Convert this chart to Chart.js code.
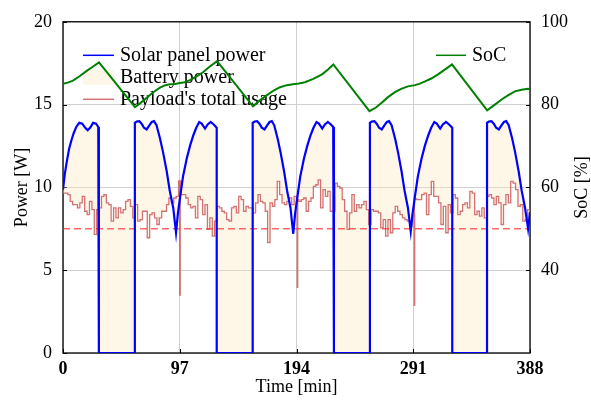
<!DOCTYPE html>
<html>
<head>
<meta charset="utf-8">
<script src="https://cdn.jsdelivr.net/npm/chart.js@4.4.0/dist/chart.umd.min.js"></script>
<style>
    html, body { margin: 0; padding: 0; background: #fff; }
    #wrap { width: 591px; height: 402px; }
</style>
</head>
<body>
<div id="wrap"><canvas id="powerChart"></canvas></div>
<script>
// values (time in min, power in W, SoC in %)
const timeTicks = [0, 97, 194, 291, 388];

const solarTime = [
    0, 1.5, 3, 5, 7, 9, 11, 13.5, 16, 18.5, 20.5, 22.5, 25, 27.5, 29.3, 29.8,
    29.8, 59.7,
    59.7, 61.2, 63.4, 65.3, 67.3, 69.5, 71.7, 73.7, 75.6, 77.7, 80.6, 83.2, 86.2, 88.7, 91.6, 93.9,
    95.5, 97.2, 99.7, 102.8, 105.7, 108.3, 110.7, 113.2, 115.2, 118.0, 120.2, 122.7, 125.2, 127.1, 127.7,
    127.7, 157.6,
    157.6, 159.1, 161.3, 163.2, 165.2, 167.4, 169.6, 171.6, 173.5, 175.5, 178.3, 180.8, 183.7, 186.2, 189.0, 191.3,
    192.9, 194.6, 197.1, 200.2, 203.1, 205.7, 208.1, 210.6, 212.6, 215.4, 217.6, 220.1, 222.6, 224.5, 225.1,
    225.1, 255.0,
    255.0, 256.5, 258.7, 260.6, 262.6, 264.8, 267.0, 269.0, 270.9, 273.0, 275.9, 278.4, 281.3, 283.8, 286.6, 288.9,
    290.5, 292.2, 294.8, 297.9, 300.8, 303.5, 305.9, 308.5, 310.5, 313.4, 315.6, 318.2, 320.8, 322.8, 323.4,
    323.4, 352.3,
    352.3, 353.8, 356.0, 357.9, 359.9, 362.1, 364.3, 366.3, 368.2, 370.3, 373.2, 375.7, 378.6, 381.1, 383.9, 386.4, 388
];
const solarPower = [
    9.86, 10.8, 11.5, 12.3, 12.85, 13.3, 13.65, 13.9, 13.85, 13.6, 13.45, 13.6, 13.9, 13.85, 13.65, 13.6,
    0, 0,
    13.9, 13.98, 14.0, 13.85, 13.6, 13.5, 13.75, 13.95, 14.0, 13.75, 12.95, 12.1, 10.96, 9.8, 8.76, 7.26,
    8.45, 9.36, 10.65, 11.75, 12.55, 13.15, 13.6, 13.95, 13.85, 13.55, 13.8, 13.95, 13.8, 13.65, 13.6,
    0, 0,
    13.9, 13.98, 14.0, 13.85, 13.6, 13.5, 13.75, 13.95, 14.0, 13.75, 12.95, 12.1, 10.96, 9.8, 8.76, 7.2,
    8.45, 9.36, 10.65, 11.75, 12.55, 13.15, 13.6, 13.95, 13.85, 13.55, 13.8, 13.95, 13.8, 13.65, 13.6,
    0, 0,
    13.9, 13.98, 14.0, 13.85, 13.6, 13.5, 13.75, 13.95, 14.0, 13.75, 12.95, 12.1, 10.96, 9.8, 8.76, 7.35,
    8.45, 9.36, 10.65, 11.75, 12.55, 13.15, 13.6, 13.95, 13.85, 13.55, 13.8, 13.95, 13.8, 13.65, 13.6,
    0, 0,
    13.9, 13.98, 14.0, 13.85, 13.6, 13.5, 13.75, 13.95, 14.0, 13.75, 12.95, 12.1, 10.96, 9.8, 8.76, 7.5, 8.5
];

// payload usage, one value every 2 min from t = 0
const payloadStepMin = 2;
const payloadPower = [
    9.66, 9.66, 9.56, 9.16, 8.96, 8.96, 8.76, 9.06, 9.46, 8.56,
    8.36, 9.16, 8.66, 7.16, 8.66, 8.76, 9.46, 9.56, 9.06, 8.96,
    7.96, 8.76, 8.16, 8.76, 8.46, 8.66, 9.16, 9.26, 8.86, 8.16,
    8.96, 7.96, 8.06, 8.56, 8.56, 6.96, 8.36, 8.46, 8.16, 7.76,
    8.16, 8.56, 8.56, 8.96, 9.36, 9.06, 9.36, 9.46, 10.4, 9.56,
    9.56, 9.36, 8.96, 8.76, 8.86, 8.16, 9.46, 9.26, 8.36, 8.96,
    7.46, 8.16, 7.06, 7.96, 8.86, 8.76, 8.56, 8.46, 8.06, 7.96,
    8.76, 8.86, 8.46, 9.46, 9.26, 8.56, 8.86, 8.76, 8.76, 8.46,
    9.06, 9.56, 9.16, 9.06, 8.56, 6.66, 9.06, 8.86, 9.26, 10.36,
    9.56, 9.06, 8.96, 9.16, 9.36, 8.96, 9.46, 9.26, 9.16, 9.26,
    9.36, 8.56, 9.16, 9.36, 10.06, 10.16, 10.46, 8.76, 9.86, 9.46,
    9.76, 8.56, 8.56, 10.26, 10.06, 9.96, 9.26, 8.56, 7.46, 8.46,
    9.56, 8.56, 8.96, 8.76, 8.96, 9.16, 8.66, 7.76, 8.66, 8.56,
    8.56, 8.46, 7.56, 8.06, 7.06, 8.06, 7.26, 8.46, 8.86, 8.56,
    8.36, 8.16, 8.06, 7.96, 7.66, 8.36, 9.3, 9.26, 9.26, 9.56,
    9.66, 8.36, 9.56, 10.36, 9.46, 9.46, 9.06, 7.76, 8.86, 7.26,
    8.96, 8.46, 9.56, 9.36, 8.36, 8.56, 8.96, 9.06, 8.76, 9.76,
    9.66, 8.36, 8.56, 8.26, 8.76, 8.16, 9.46, 9.56, 9.36, 8.96,
    9.46, 9.06, 7.76, 8.96, 9.56, 9.06, 10.36, 10.26, 9.86, 8.86,
    8.96, 7.96, 8.06, 8.66, 8.76
];
// short drops of the payload line
const spikeTime = [97.0, 194.6, 291.8];
const spikeLow = [3.5, 3.97, 2.87];

const limitTime = [0, 388];
const limitPower = [7.5, 7.5];

const socTime = [
    0, 4, 8.3, 14, 20, 25, 29.9,
    59.8, 64, 69.8, 75, 80.6, 85, 88.9, 93, 97.2, 101, 105.5, 111, 116.3, 122, 128,
    157.9, 163, 169.5, 175, 180.3, 186, 191.1, 196, 201, 208, 215.2, 220, 224.6,
    254.6, 260, 265, 270, 275.8, 281, 286.6, 292.4, 296, 300.8, 306, 311.6, 317.5, 323.2,
    352.4, 358, 364.7, 370, 375.5, 381, 386.3, 388
];
const socValue = [
    85.0, 85.3, 85.8, 86.9, 88.2, 89.2, 90.2,
    79.4, 80.3, 81.7, 83.0, 84.1, 84.7, 84.9, 85.0, 85.2, 85.4, 85.9, 86.8, 87.8, 89.2, 90.5,
    79.6, 80.9, 82.3, 83.4, 84.2, 84.7, 84.9, 85.1, 85.4, 86.2, 87.3, 88.4, 89.7,
    78.4, 79.3, 80.5, 81.8, 83.0, 83.8, 84.4, 84.7, 85.0, 85.6, 86.3, 87.3, 88.5, 89.7,
    78.6, 79.8, 81.3, 82.3, 83.2, 83.6, 83.8, 83.7
];

const FONT = '"Liberation Serif", "Times New Roman", serif';
Chart.defaults.font.family = FONT;
Chart.defaults.font.size = 18;
Chart.defaults.color = '#000';

function toPoints(xs, ys) {
    return xs.map((x, i) => ({ x: x, y: ys[i] }));
}

const solarPoints = toPoints(solarTime, solarPower);

const payloadPoints = [];
payloadPower.forEach((v, i) => {
    const t = i * payloadStepMin;
    payloadPoints.push({ x: t, y: v });
    spikeTime.forEach((st, k) => {
        if (st > t && st < t + payloadStepMin) {
            payloadPoints.push({ x: st, y: spikeLow[k] });
            payloadPoints.push({ x: st + 0.4, y: v });
        }
    });
});

// legend inside the plot, frame and inward ticks
const innerLegend = {
    id: 'innerLegend',
    beforeDatasetsDraw(chart) {
        const ctx = chart.ctx;
        const a = chart.chartArea;
        const ds = chart.data.datasets;

        // frame
        ctx.save();
        ctx.strokeStyle = '#000';
        ctx.lineWidth = 1.3;
        ctx.strokeRect(a.left, a.top, a.right - a.left, a.bottom - a.top);

        ctx.lineWidth = 1;
        ctx.beginPath();
        const xs = chart.scales.x, ys = chart.scales.y, ys2 = chart.scales.y2;
        xs.ticks.forEach(t => {
            const px = Math.round(xs.getPixelForValue(t.value)) + 0.5;
            ctx.moveTo(px, a.bottom);
            ctx.lineTo(px, a.bottom - 4);
        });
        ys.ticks.forEach(t => {
            const py = Math.round(ys.getPixelForValue(t.value)) + 0.5;
            ctx.moveTo(a.left, py);
            ctx.lineTo(a.left + 4, py);
        });
        ys2.ticks.forEach(t => {
            const py = Math.round(ys2.getPixelForValue(t.value)) + 0.5;
            ctx.moveTo(a.right, py);
            ctx.lineTo(a.right - 4, py);
        });
        ctx.stroke();

        // legend for the power axis
        ctx.font = '20px ' + FONT;
        ctx.textBaseline = 'middle';
        const rows = [ds[1], ds[4], ds[3]];
        rows.forEach((d, i) => {
            const y = a.top + 33.5 + i * 22;
            const x0 = a.left + 20;
            if (d.fill !== undefined && d.fill !== false) {
                ctx.fillStyle = d.backgroundColor;
                ctx.fillRect(x0, y - 7.5, 31, 15);
            } else {
                ctx.strokeStyle = d.borderColor;
                ctx.lineWidth = 1.5;
                ctx.beginPath();
                ctx.moveTo(x0, y);
                ctx.lineTo(x0 + 31, y);
                ctx.stroke();
            }
            ctx.fillStyle = '#000';
            ctx.fillText(d.label, x0 + 37, y);
        });
        ctx.restore();
    },
    afterDatasetsDraw(chart) {
        const ctx = chart.ctx;
        const a = chart.chartArea;
        const d = chart.data.datasets[0];
        ctx.save();
        ctx.font = '20px ' + FONT;
        ctx.textBaseline = 'middle';
        const y = a.top + 33.5;
        const x0 = a.right - 94;
        ctx.strokeStyle = d.borderColor;
        ctx.lineWidth = 1.5;
        ctx.beginPath();
        ctx.moveTo(x0, y);
        ctx.lineTo(x0 + 30, y);
        ctx.stroke();
        ctx.fillStyle = '#000';
        ctx.fillText(d.label, x0 + 36, y);
        ctx.restore();
    },
    afterDraw(chart) {
        // right axis title reads bottom to top
        const ctx = chart.ctx;
        const a = chart.chartArea;
        ctx.save();
        ctx.font = '18px ' + FONT;
        ctx.fillStyle = '#000';
        ctx.textAlign = 'center';
        ctx.textBaseline = 'middle';
        ctx.translate(chart.width - 9, (a.top + a.bottom) / 2);
        ctx.rotate(-Math.PI / 2);
        ctx.fillText('SoC [%]', 0, 0);
        ctx.restore();
    }
};

new Chart(document.getElementById('powerChart'), {
    type: 'line',
    data: {
        datasets: [{
            label: 'SoC',
            data: toPoints(socTime, socValue),
            yAxisID: 'y2',
            borderColor: '#008000',
            borderWidth: 2,
            pointRadius: 0,
            tension: 0,
            fill: false
        }, {
            label: 'Solar panel power',
            data: solarPoints,
            yAxisID: 'y',
            borderColor: '#0000ff',
            borderWidth: 2.2,
            pointRadius: 0,
            tension: 0,
            fill: false
        }, {
            label: 'limit',
            data: toPoints(limitTime, limitPower),
            yAxisID: 'y',
            borderColor: 'rgba(255, 40, 40, 0.7)',
            borderWidth: 1.6,
            borderDash: [7, 4],
            pointRadius: 0,
            fill: false
        }, {
            label: "Payload's total usage",
            data: payloadPoints,
            yAxisID: 'y',
            borderColor: 'rgba(200, 80, 80, 0.8)',
            borderWidth: 1.3,
            pointRadius: 0,
            stepped: true,
            fill: false
        }, {
            label: 'Battery power',
            data: solarPoints,
            yAxisID: 'y',
            borderColor: 'rgba(0, 0, 0, 0)',
            borderWidth: 0,
            backgroundColor: 'rgba(253, 232, 190, 0.35)',
            pointRadius: 0,
            tension: 0,
            fill: 3
        }]
    },
    options: {
        responsive: true,
        maintainAspectRatio: false,
        animation: false,
        layout: { padding: { top: 19, left: 0, right: 0, bottom: 0 } },
        plugins: {
            legend: { display: false },
            tooltip: { enabled: false }
        },
        scales: {
            x: {
                type: 'linear',
                min: 0,
                max: 388,
                afterBuildTicks: scale => {
                    scale.ticks = timeTicks.map(v => ({ value: v }));
                },
                afterFit: scale => { scale.height = 49; },
                ticks: {
                    padding: 6,
                    maxRotation: 0,
                    font: { size: 18, weight: 'bold' },
                    callback: v => String(v)
                },
                grid: { color: '#d0d0d0', drawTicks: false },
                border: { display: false },
                title: {
                    display: true,
                    text: 'Time [min]',
                    font: { size: 18, lineHeight: 1 },
                    padding: { top: 0, bottom: 6 }
                }
            },
            y: {
                position: 'left',
                min: 0,
                max: 20,
                ticks: { stepSize: 5, padding: 11 },
                afterFit: scale => { scale.width = 63; },
                grid: { color: '#d0d0d0', drawTicks: false },
                border: { display: false },
                title: {
                    display: true,
                    text: 'Power [W]',
                    font: { size: 18, lineHeight: 1 },
                    padding: { top: 13, bottom: 0 }
                }
            },
            y2: {
                position: 'right',
                min: 20,
                max: 100,
                ticks: { stepSize: 20, padding: 11 },
                afterBuildTicks: scale => {
                    scale.ticks = scale.ticks.filter(t => t.value > 20);
                },
                afterFit: scale => { scale.width = 61; },
                grid: { display: false, drawTicks: false },
                border: { display: false },
                title: { display: false }
            }
        }
    },
    plugins: [innerLegend]
});
</script>
</body>
</html>
